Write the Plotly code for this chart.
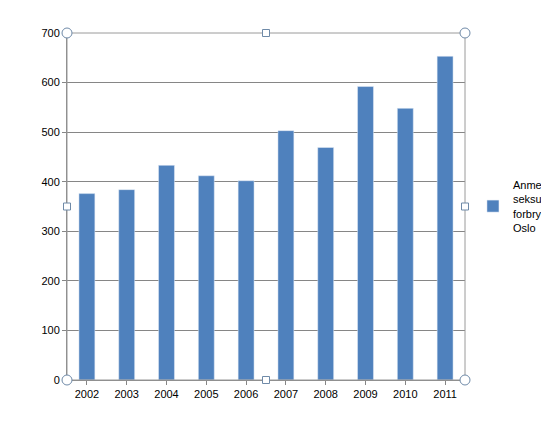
import plotly.graph_objects as go

years = ["2002","2003","2004","2005","2006","2007","2008","2009","2010","2011"]
values = [376, 384, 433, 412, 402, 503, 469, 592, 548, 653]
series_name = "Anmeldte<br>seksual-<br>forbrytelser<br>Oslo"

fig = go.Figure(go.Bar(x=years, y=values, name=series_name, marker_color="#4F81BD", width=0.4))

shapes = [dict(type="rect", xref="paper", yref="paper", x0=0, y0=0, x1=1, y1=1,
               line=dict(color="#9a9a9a", width=1))]
for (px, py, kind) in [(0,0,"c"),(1,0,"c"),(0,1,"c"),(1,1,"c"),(0.5,0,"s"),(0.5,1,"s"),(0,0.5,"s"),(1,0.5,"s")]:
    r = 5 if kind == "c" else 3.5
    shapes.append(dict(type="circle" if kind == "c" else "rect", xref="paper", yref="paper",
                       xsizemode="pixel", ysizemode="pixel", xanchor=px, yanchor=py,
                       x0=-r, x1=r, y0=-r, y1=r, fillcolor="white",
                       line=dict(color="#6f8aa8", width=1)))

fig.update_layout(
    width=549, height=434, margin=dict(l=59, r=92, t=25, b=62, autoexpand=False),
    paper_bgcolor="white", plot_bgcolor="white",
    font=dict(family="Liberation Sans, Arial", size=11, color="black"),
    showlegend=True,
    legend=dict(x=1.02, y=0.5, yanchor="middle", xanchor="left", font=dict(size=11),
                itemwidth=30, tracegroupgap=0),
    xaxis=dict(showline=True, linecolor="#868686", ticks="outside", ticklen=4, tickcolor="#868686"),
    yaxis=dict(range=[0, 700], dtick=100, showgrid=True, gridcolor="#868686",
               ticks="outside", ticklen=4, tickcolor="#868686", showline=True, linecolor="#868686"),
    shapes=shapes,
)
fig.write_html("out.html")
